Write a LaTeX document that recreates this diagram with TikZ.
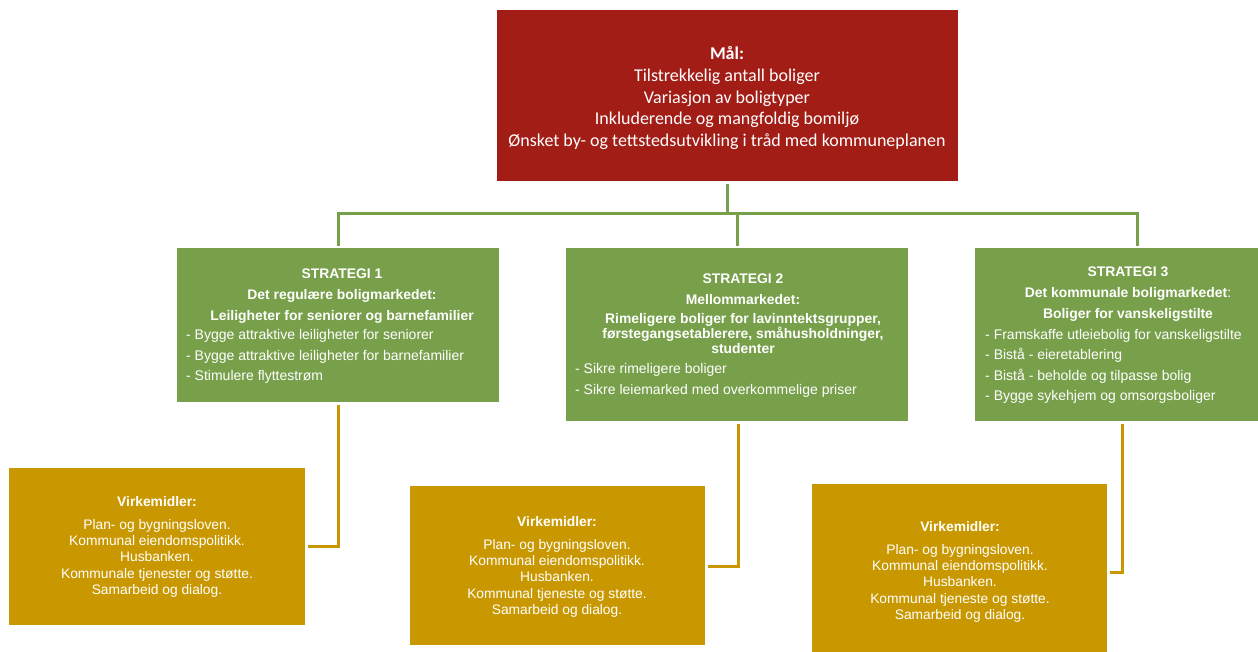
\documentclass[tikz,border=0pt]{standalone}
\usepackage{fontspec}
\setmainfont{Liberation Sans}
\newfontfamily\calibrifont{Carlito}
\definecolor{goalred}{RGB}{162,29,22}
\definecolor{stratgreen}{RGB}{120,160,75}
\definecolor{toolgold}{RGB}{201,152,0}
\begin{document}
\begin{tikzpicture}[x=1pt,y=-1pt,
  box/.style={rectangle, inner sep=0pt, outer sep=0pt, anchor=north west},
  txt/.style={text=white, inner sep=0pt, font=\fontsize{14}{20.5}\selectfont},
  headtxt/.style={txt, align=center, anchor=base, font=\bfseries\fontsize{13.9}{20.7}\selectfont},
  listtxt/.style={txt, align=left, anchor=base west},
  tooltxt/.style={txt, align=center, anchor=base, font=\fontsize{13.8}{16.3}\selectfont},
  gline/.style={draw=stratgreen, line width=3pt, shorten <=3pt, shorten >=2pt},
  yline/.style={draw=toolgold, line width=3pt, shorten <=3pt, shorten >=3pt}]
\useasboundingbox (0,0) rectangle (1258,652);

% boxes
\node[box, fill=goalred, minimum width=461pt, minimum height=171pt] (goal) at (497,10) {};
\node[box, fill=stratgreen, minimum width=322pt, minimum height=154pt] (s1) at (177,248) {};
\node[box, fill=stratgreen, minimum width=342pt, minimum height=173pt] (s2) at (566,248) {};
\node[box, fill=stratgreen, minimum width=283pt, minimum height=173pt] (s3) at (975,248) {};
\node[box, fill=toolgold, minimum width=296pt, minimum height=157pt] (v1) at (9,468) {};
\node[box, fill=toolgold, minimum width=295pt, minimum height=159pt] (v2) at (410,486) {};
\node[box, fill=toolgold, minimum width=295pt, minimum height=168pt] (v3) at (812,484) {};

% helper coordinates
\coordinate (bar) at (0,214);
\coordinate (s3top) at (1137,248);
\coordinate (s3bot) at (1122,421);

% green connectors
\draw[gline] (goal.south) -- (goal.south |- bar);
\draw[gline, shorten <=2pt] (s1.north) -- (s1.north |- bar) -- (s3top |- bar) -- (s3top);
\draw[gline, shorten <=0pt] (s2.north |- bar) -- (s2.north);

% gold connectors
\draw[yline] (s1.south) |- (v1.east);
\draw[yline] ([xshift=1pt]s2.south) |- ([yshift=-1pt]v2.east);
\draw[yline] (s3bot) |- ([yshift=-4pt]v3.east);

% texts (anchor=base is the baseline of the last line)
\node[txt, align=center, anchor=base, font=\calibrifont\fontsize{18}{21.7}\selectfont] (goaltxt) at (727,146.7)
  {\textbf{Mål:}\\Tilstrekkelig antall boliger\\Variasjon av boligtyper\\Inkluderende og mangfoldig bomiljø\\Ønsket by- og tettstedsutvikling i tråd med kommuneplanen};

\node[headtxt] (s1head) at (342,320)
  {STRATEGI 1\\Det regulære boligmarkedet:\\Leiligheter for seniorer og barnefamilier};
\node[listtxt] (s1list) at (186,380.5)
  {- Bygge attraktive leiligheter for seniorer\\- Bygge attraktive leiligheter for barnefamilier\\- Stimulere flyttestrøm};

\node[headtxt] (s2head) at (743,353.3)
  {STRATEGI 2\\Mellommarkedet:\\[-1.4pt]Rimeligere boliger for lavinntektsgrupper,\\[-5.7pt]førstegangsetablerere, småhusholdninger,\\[-5.7pt]studenter};
\node[listtxt] (s2list) at (575,394)
  {- Sikre rimeligere boliger\\- Sikre leiemarked med overkommelige priser};

\node[headtxt] (s3head) at (1128,318.3)
  {STRATEGI 3\\Det kommunale boligmarkedet{\mdseries :}\\Boliger for vanskeligstilte};
\node[listtxt] (s3list) at (985,400.5)
  {- Framskaffe utleiebolig for vanskeligstilte\\- Bistå - eieretablering\\- Bistå - beholde og tilpasse bolig\\- Bygge sykehjem og omsorgsboliger};

\node[tooltxt] (v1txt) at (157,594.3)
  {\textbf{Virkemidler:}\\[6.3pt]Plan- og bygningsloven.\\Kommunal eiendomspolitikk.\\Husbanken.\\Kommunale tjenester og støtte.\\Samarbeid og dialog.};
\node[tooltxt] (v2txt) at (557,614.3)
  {\textbf{Virkemidler:}\\[6.3pt]Plan- og bygningsloven.\\Kommunal eiendomspolitikk.\\Husbanken.\\Kommunal tjeneste og støtte.\\Samarbeid og dialog.};
\node[tooltxt] (v3txt) at (960,619.3)
  {\textbf{Virkemidler:}\\[6.3pt]Plan- og bygningsloven.\\Kommunal eiendomspolitikk.\\Husbanken.\\Kommunal tjeneste og støtte.\\Samarbeid og dialog.};
\end{tikzpicture}
\end{document}
